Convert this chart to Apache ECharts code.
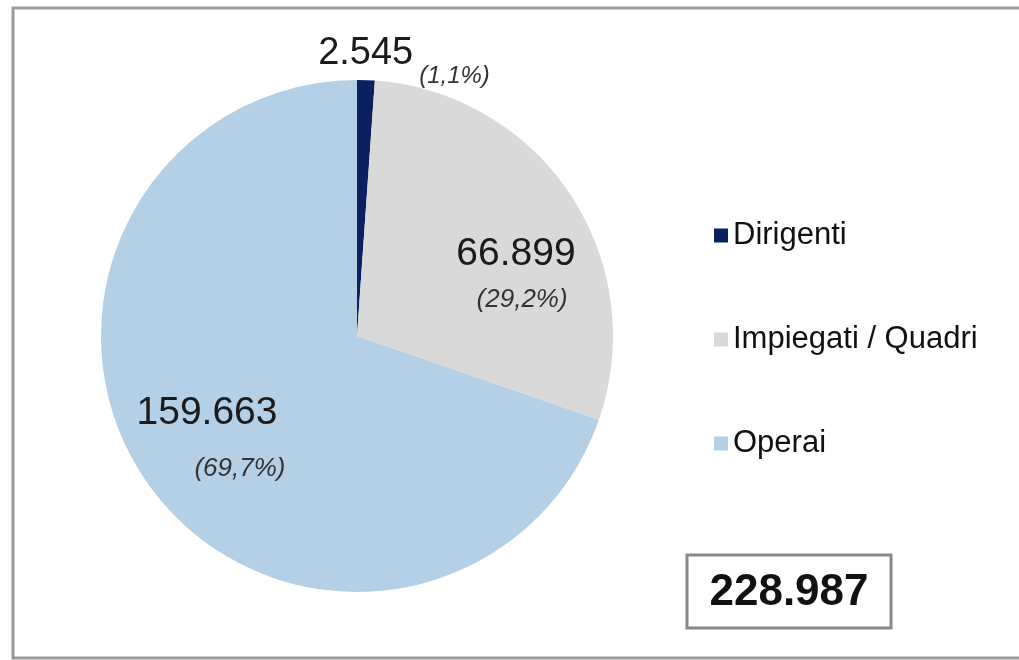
<!DOCTYPE html>
<html>
<head>
<meta charset="utf-8">
<script src="https://cdn.jsdelivr.net/npm/echarts@6/dist/echarts.min.js"></script>
<style>html,body{margin:0;padding:0;background:#fff}#c{width:1019px;height:660px}</style>
</head>
<body>
<div id="c"></div>
<script>
var categories = ['Dirigenti', 'Impiegati / Quadri', 'Operai'];
var values = [2545, 66899, 159663];
var valueLabels = ['2.545', '66.899', '159.663'];
var percentLabels = ['(1,1%)', '(29,2%)', '(69,7%)'];
var totalLabel = '228.987';
var colors = ['#0c1f5e', '#d9d9d9', '#b3d0e6'];

var font = '"Liberation Sans", Arial, sans-serif';
// label block centres (pixels) and per-item rich styling
var labelPos = [[404, 65], [516, 277], [211, 441]];
var richByItem = [
  {
    v: {fontSize: 38, fontFamily: font, color: '#1a1a1a', lineHeight: 22, align: 'left'},
    q: {fontSize: 24, fontFamily: font, fontStyle: 'italic', color: '#333', lineHeight: 22, align: 'left', padding: [0, 0, 0, 101]}
  },
  {
    v: {fontSize: 39, fontFamily: font, color: '#1a1a1a', lineHeight: 46, align: 'right'},
    q: {fontSize: 26, fontFamily: font, fontStyle: 'italic', color: '#333', lineHeight: 46, align: 'right', padding: [0, 8, 0, 0]}
  },
  {
    v: {fontSize: 39, fontFamily: font, color: '#1a1a1a', lineHeight: 56, align: 'right', padding: [0, 8, 0, 0]},
    q: {fontSize: 26, fontFamily: font, fontStyle: 'italic', color: '#333', lineHeight: 56, align: 'right'}
  }
];

var chart = echarts.init(document.getElementById('c'), null, {renderer: 'canvas'});

var data = categories.map(function (c, i) {
  return {
    name: c, value: values[i], itemStyle: {color: colors[i]},
    label: {formatter: '{v|' + valueLabels[i] + '}\n{q|' + percentLabels[i] + '}', rich: richByItem[i]}
  };
});

chart.setOption({
  animation: false,
  color: colors,
  graphic: [{
    type: 'rect', shape: {x: 13, y: 8, width: 1020, height: 650},
    style: {fill: 'none', stroke: '#9a9a9a', lineWidth: 3}, z: -1
  }, {
    type: 'rect', shape: {x: 687, y: 555, width: 204, height: 73},
    style: {fill: '#fff', stroke: '#888', lineWidth: 3}
  }, {
    type: 'text', x: 789, y: 593,
    style: {text: totalLabel, font: 'bold 44px ' + font, fill: '#111', align: 'center', verticalAlign: 'middle'}
  }],
  legend: {
    orient: 'vertical', left: 709, top: 215,
    itemWidth: 14, itemHeight: 14, itemGap: 73,
    icon: 'rect',
    textStyle: {fontFamily: font, fontSize: 31, color: '#111'},
    data: categories
  },
  series: [{
    type: 'pie',
    center: [357, 336], radius: 256,
    startAngle: 90, clockwise: true,
    data: data,
    label: {position: 'inside', fontFamily: font, color: '#222'},
    labelLine: {show: false},
    labelLayout: function (params) {
      var p = labelPos[params.dataIndex];
      return {x: p[0], y: p[1], align: 'center', verticalAlign: 'middle'};
    },
    emphasis: {disabled: true}
  }]
});
</script>
</body>
</html>
